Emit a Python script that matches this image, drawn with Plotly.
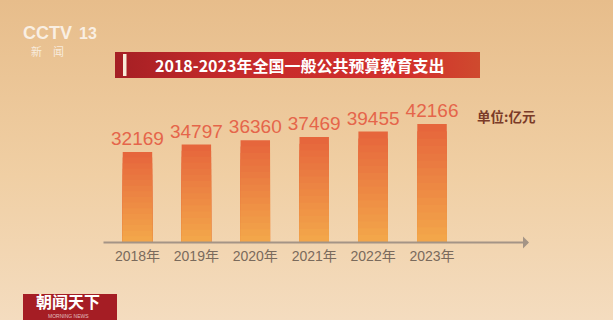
import plotly.graph_objects as go

years = ["2018年", "2019年", "2020年", "2021年", "2022年", "2023年"]
spending = [32169, 34797, 36360, 37469, 39455, 42166]
title_text = "2018-2023年全国一般公共预算教育支出"
unit_text = "单位:亿元"

W, H = 613, 320


def px(x):
    return x / W


def py(y):
    return 1 - y / H


def mix(c1, c2, t):
    return "rgb(%d,%d,%d)" % tuple(round(a + (b - a) * t) for a, b in zip(c1, c2))


fig = go.Figure()

# background (full-page helper axes x/y, range 0..1)
fig.add_trace(go.Scatter(
    x=[0, 1, 1, 0, 0], y=[0, 0, 1, 1, 0], fill="toself", mode="lines",
    line=dict(width=0),
    fillgradient=dict(type="vertical",
                      colorscale=[[0, "#f4dcbf"], [0.45, "#f0cfa4"], [1, "#e7bd8b"]]),
    hoverinfo="skip", showlegend=False, xaxis="x", yaxis="y"))

# title banner
bx0, bx1, by0, by1 = px(115), px(480), py(78), py(52)
fig.add_trace(go.Scatter(
    x=[bx0, bx1, bx1, bx0, bx0], y=[by0, by0, by1, by1, by0], fill="toself", mode="lines",
    line=dict(width=0),
    fillgradient=dict(type="horizontal",
                      colorscale=[[0, "#a51f24"], [0.3, "#c42a2b"], [0.8, "#d2302c"], [1, "#cf4a2e"]]),
    hoverinfo="skip", showlegend=False, xaxis="x", yaxis="y"))

# bars: overlaid steps to form a vertical gradient
top_col = (230, 102, 60)
bot_col = (243, 166, 74)
n = 16
for k in range(n):
    f = 1 - k / n
    t = k / (n - 1)
    fig.add_trace(go.Bar(
        x=years, y=[v * f for v in spending],
        marker=dict(color=mix(top_col, bot_col, t), line=dict(width=0)),
        text=[str(v) for v in spending] if k == 0 else None,
        textposition="outside" if k == 0 else "none",
        constraintext="none",
        textfont=dict(family="Liberation Sans, Arial", size=19, color="#e5654a"),
        cliponaxis=False, hoverinfo="skip", showlegend=False,
        xaxis="x2", yaxis="y2"))


def ann(text, x, y, size, color, family="Noto Sans CJK SC"):
    return dict(text=text, x=px(x), y=py(y), xref="paper", yref="paper",
                xanchor="center", yanchor="middle", showarrow=False, borderpad=0,
                font=dict(family=family, size=size, color=color))


fig.update_layout(
    width=W, height=H, margin=dict(l=0, r=0, t=0, b=0),
    paper_bgcolor="#ecc699", plot_bgcolor="rgba(0,0,0,0)",
    barmode="overlay", bargap=0.5,
    xaxis=dict(domain=[0, 1], range=[0, 1], visible=False, fixedrange=True),
    yaxis=dict(domain=[0, 1], range=[0, 1], visible=False, fixedrange=True),
    xaxis2=dict(domain=[px(108), px(461.5)], anchor="y2", type="category",
                range=[-0.5, 5.5], showline=False, showgrid=False, ticks="",
                tickfont=dict(family="Liberation Sans, Noto Sans CJK SC", size=14, color="#7a6a5c"),
                ticklabelstandoff=4),
    yaxis2=dict(domain=[py(242), py(102)], anchor="x2", range=[0, 50000], visible=False),
    shapes=[
        # banner left white stroke
        dict(type="rect", xref="paper", yref="paper", x0=px(123), x1=px(126.5), y0=py(76), y1=py(54),
             fillcolor="#f8ecd8", line=dict(width=0), layer="above"),
        # bottom-left programme box
        dict(type="rect", xref="paper", yref="paper", x0=px(23), x1=px(117), y0=py(320), y1=py(294),
             fillcolor="#a51d24", line=dict(width=0), layer="above"),
    ],
    annotations=[
        dict(text="", x=px(529), y=py(242.5), ax=px(102), ay=py(242.5),
             xref="x", yref="y", axref="x", ayref="y",
             showarrow=True, arrowhead=1, arrowsize=1, arrowwidth=2, arrowcolor="#a49486"),
        ann("<b>" + title_text + "</b>", 299, 65, 16, "#ffffff"),
        ann("<b>" + unit_text + "</b>", 506, 116, 13.5, "#7b3b28"),
        ann("<b>CCTV</b>", 48, 33, 18, "rgba(255,255,255,0.75)", "Liberation Sans"),
        ann("<b>13</b>", 88, 33, 16, "rgba(255,255,255,0.75)", "Liberation Sans"),
        ann("新　闻", 48, 51, 11, "rgba(255,255,255,0.7)"),
        ann("<b>朝闻天下</b>", 68, 301, 16, "#ffffff"),
        ann("MORNING NEWS", 68, 315.8, 5, "rgba(255,255,255,0.7)", "Liberation Sans"),
    ],
)

fig.write_html("out.html")
